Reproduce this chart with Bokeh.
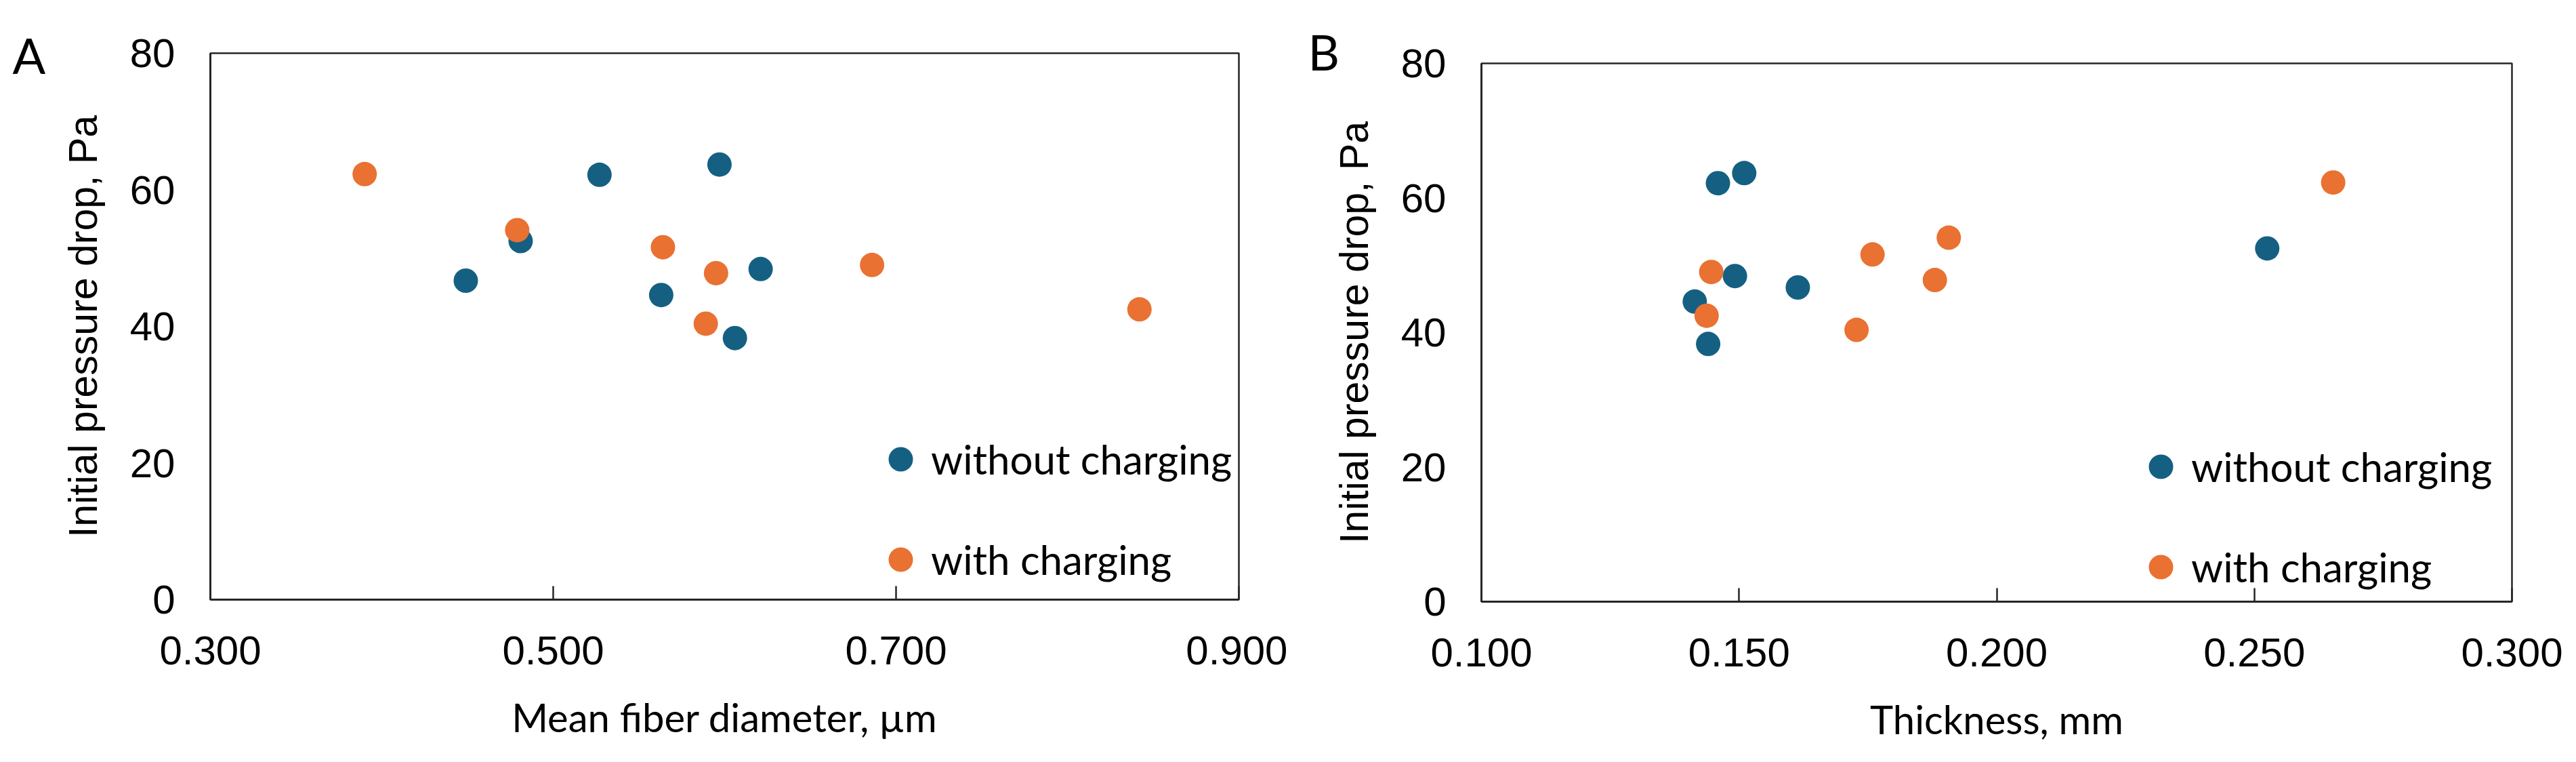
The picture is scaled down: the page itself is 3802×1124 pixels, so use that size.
from bokeh.plotting import figure
from bokeh.layouts import row
from bokeh.models import (Legend, LegendItem, Title, FixedTicker,
                          NumeralTickFormatter, Range1d, ColumnDataSource)
from bokeh.embed import file_html
from bokeh.resources import INLINE

# ---------------- data ----------------
series_names = ["without charging", "with charging"]
series_colors = ["#156082", "#E97132"]

# samples without charging
diam_without = [0.449, 0.481, 0.527, 0.597, 0.563, 0.621, 0.606]      # µm
thick_without = [0.1614, 0.2525, 0.1459, 0.1510, 0.1414, 0.1492, 0.1440]  # mm
dp_without = [46.7, 52.5, 62.2, 63.7, 44.6, 48.4, 38.3]               # Pa

# samples with charging
diam_with = [0.390, 0.479, 0.564, 0.595, 0.589, 0.686, 0.842]
thick_with = [0.2653, 0.1907, 0.1759, 0.1880, 0.1728, 0.1446, 0.1437]
dp_with = [62.3, 54.1, 51.6, 47.8, 40.4, 49.0, 42.5]

y_ticks = [0, 20, 40, 60, 80]
xa_ticks = [0.3, 0.5, 0.7, 0.9]
xb_ticks = [0.10, 0.15, 0.20, 0.25, 0.30]

TICK_FONT = "Liberation Sans"
TEXT_FONT = "Lato"
LINE_COLOR = "#262626"


def make_panel(letter, xvals, x_ticks, x_range, x_title, width, height,
               b_left, b_right, b_top, b_bottom, legend_loc,
               letter_offset, letter_standoff):
    p = figure(width=width, height=height, output_backend="svg",
               toolbar_location=None, x_range=Range1d(*x_range),
               y_range=Range1d(0, 80),
               min_border_left=b_left, min_border_right=b_right,
               min_border_top=b_top, min_border_bottom=b_bottom)
    p.frame_align = False
    p.background_fill_color = "white"
    p.border_fill_color = "white"
    p.outline_line_color = LINE_COLOR
    p.outline_line_width = 2.5
    p.xgrid.visible = False
    p.ygrid.visible = False

    # panel letter as a left-aligned title
    p.title = Title(text=letter, align="left", offset=letter_offset,
                    standoff=letter_standoff, text_font=TEXT_FONT,
                    text_font_size="72px", text_font_style="normal",
                    text_color="black")

    renderers = []
    for (xs, ys), name, color in zip(xvals, series_names, series_colors):
        src = ColumnDataSource(dict(x=xs, y=ys))
        r = p.scatter("x", "y", source=src, size=36, marker="circle",
                      fill_color=color, line_color=None)
        renderers.append((name, r))

    xa = p.xaxis[0]
    xa.ticker = FixedTicker(ticks=x_ticks)
    xa.formatter = NumeralTickFormatter(format="0.000")
    xa.major_tick_in = 20
    xa.major_tick_out = 0
    xa.minor_tick_line_color = None
    xa.axis_line_width = 3
    xa.axis_line_color = LINE_COLOR
    xa.major_tick_line_color = LINE_COLOR
    xa.major_tick_line_width = 2.5
    xa.major_label_text_font = TICK_FONT
    xa.major_label_text_font_size = "60px"
    xa.major_label_text_color = "black"
    xa.major_label_standoff = 54
    xa.axis_label = x_title
    xa.axis_label_text_font = TEXT_FONT
    xa.axis_label_text_font_size = "58px"
    xa.axis_label_text_font_style = "normal"
    xa.axis_label_text_color = "black"
    xa.axis_label_standoff = 40

    ya = p.yaxis[0]
    ya.ticker = FixedTicker(ticks=y_ticks)
    ya.major_tick_in = 0
    ya.major_tick_out = 0
    ya.minor_tick_line_color = None
    ya.axis_line_width = 3
    ya.axis_line_color = LINE_COLOR
    ya.major_label_text_font = TICK_FONT
    ya.major_label_text_font_size = "60px"
    ya.major_label_text_color = "black"
    ya.major_label_standoff = 52
    ya.axis_label = "Initial pressure drop, Pa"
    ya.axis_label_text_font = TICK_FONT
    ya.axis_label_text_font_size = "59px"
    ya.axis_label_text_font_style = "normal"
    ya.axis_label_text_color = "black"
    ya.axis_label_standoff = 33

    legend = Legend(items=[LegendItem(label=n, renderers=[r]) for n, r in renderers],
                    location=legend_loc, orientation="vertical",
                    glyph_width=90, glyph_height=90, spacing=58,
                    padding=0, margin=0, label_standoff=-6,
                    label_text_font=TEXT_FONT, label_text_font_size="60px",
                    label_text_color="black", label_text_baseline="middle",
                    border_line_color=None, background_fill_alpha=0)
    p.add_layout(legend, "center")
    return p


H = 1114
pa = make_panel("A", [(diam_without, dp_without), (diam_with, dp_with)],
                xa_ticks, (0.3, 0.9), "Mean fiber diameter, µm",
                1900, H, 310, 72, 78, H - 884, (974, 14), -292, -90)
pb = make_panel("B", [(thick_without, dp_without), (thick_with, dp_with)],
                xb_ticks, (0.1, 0.3), "Thickness, mm",
                1900, H, 286, 93, 93, H - 887, (958, 6), -256, -50)

layout = row(pa, pb)
open("out.html", "w").write(file_html(layout, INLINE))
